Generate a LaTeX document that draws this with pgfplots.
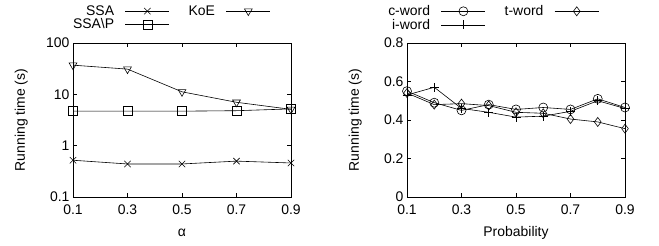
\documentclass[border=0pt]{standalone}
\usepackage{fontspec}
\setmainfont{Liberation Sans}
\usepackage{pgfplots}
\pgfplotsset{compat=1.18}
\pgfplotsset{
 mystyle/.style={
  scale only axis, width=218bp, height=154bp,
  font=\fontsize{14}{16}\selectfont,
  /pgf/number format/assume math mode=true,
  tick align=inside, major tick length=4bp, minor tick length=0pt,
  axis line style={line width=0.8pt},
  every tick/.style={line width=0.6pt, black},
  xmin=0.1, xmax=0.9,
  xtick={0.1,0.3,0.5,0.7,0.9}, xticklabels={0.1,0.3,0.5,0.7,0.9},
  xticklabel style={yshift=-4bp},
  ylabel={Running time (s)},
  ylabel style={at={(axis description cs:-0.237,0.5)}, anchor=center},
  xlabel style={at={(axis description cs:0.5,-0.235)}, anchor=center},
  every axis plot/.append style={line width=0.6pt, black, mark size=4.5bp, mark options={solid, line width=0.6pt, fill=white}},
  legend plot pos=right,
  legend cell align=right,
  legend image code/.code={\path (-5bp,0bp); \draw[mark repeat=2,mark phase=2] plot coordinates {(0bp,0bp) (22bp,0bp) (44bp,0bp)};},
  legend style={draw=none, fill=none, legend columns=2, anchor=north west, inner sep=0pt,
    font=\fontsize{14}{16}\selectfont, row sep=-2bp,
    /tikz/every odd column/.append style={column sep=4bp},
    /tikz/every even column/.append style={column sep=17bp}},
 }
}
\begin{document}
\begin{tikzpicture}
\path[use as bounding box] (0,0) rectangle (659bp,246bp);
\begin{axis}[mystyle, at={(73bp,49bp)}, anchor=south west,
  ymode=log, ymin=0.1, ymax=100,
  ytick={0.1,1,10,100}, yticklabels={0.1,1,10,100},
  xlabel={α},
  legend style={at={(-0.01,1.258)}}]
\addplot[mark=x] coordinates {(0.1,0.52)(0.3,0.44)(0.5,0.44)(0.7,0.50)(0.9,0.46)};
\addlegendentry{SSA}
\addplot[mark=triangle, mark options={rotate=180}] coordinates {(0.1,37)(0.3,31)(0.5,11.2)(0.7,7.0)(0.9,5.1)};
\addlegendentry{KoE}
\addplot[mark=square] coordinates {(0.1,4.7)(0.3,4.7)(0.5,4.7)(0.7,4.8)(0.9,5.2)};
\addlegendentry{SSA\textbackslash P}
\end{axis}
\begin{axis}[mystyle, at={(407bp,49bp)}, anchor=south west,
  ymin=0, ymax=0.8,
  ytick={0,0.2,0.4,0.6,0.8}, yticklabels={0,0.2,0.4,0.6,0.8},
  xlabel={Probability},
  legend style={at={(-0.096,1.258)}}]
\addplot[mark=o] coordinates {(0.1,0.55)(0.2,0.49)(0.3,0.45)(0.4,0.48)(0.5,0.455)(0.6,0.465)(0.7,0.455)(0.8,0.51)(0.9,0.465)};
\addlegendentry{c-word}
\addplot[mark=diamond] coordinates {(0.1,0.54)(0.2,0.48)(0.3,0.485)(0.4,0.475)(0.5,0.44)(0.6,0.435)(0.7,0.405)(0.8,0.39)(0.9,0.355)};
\addlegendentry{t-word}
\addplot[mark=+] coordinates {(0.1,0.53)(0.2,0.57)(0.3,0.46)(0.4,0.44)(0.5,0.415)(0.6,0.42)(0.7,0.445)(0.8,0.50)(0.9,0.46)};
\addlegendentry{i-word}
\end{axis}
\end{tikzpicture}
\end{document}
